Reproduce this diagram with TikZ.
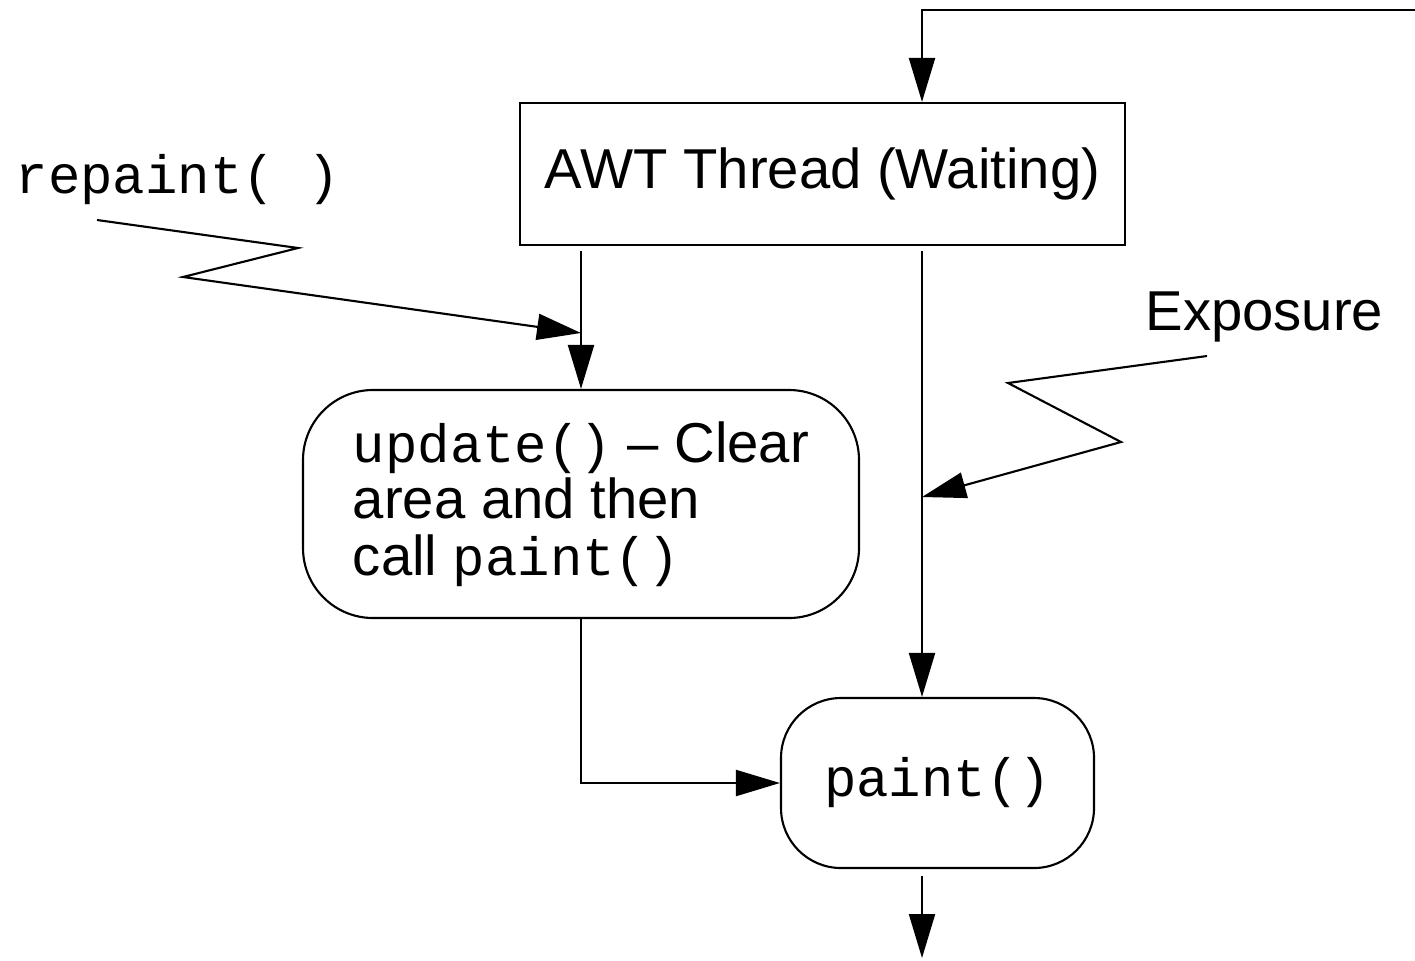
\documentclass[tikz,border=0pt]{standalone}
\usepackage{fontspec}
\setmainfont{Liberation Sans}
\setmonofont[Scale=0.96]{Liberation Mono}
\usepackage{tikz}
\usetikzlibrary{arrows.meta, positioning}

\begin{document}
\begin{tikzpicture}[
    box/.style={rectangle, draw, line width=0.6pt, minimum width=6.05cm, minimum height=1.42cm, align=center, font=\fontsize{16}{16}\selectfont},
    roundbox/.style={rectangle, draw, line width=0.6pt, rounded corners=0.7cm, align=left, font=\fontsize{16}{16}\selectfont},
    lbl/.style={inner sep=0pt, font=\fontsize{16}{16}\selectfont},
    arrow/.style={-{Triangle[length=0.44cm, width=0.26cm]}, line width=0.6pt}
]
    \useasboundingbox (0, 0) rectangle (14.15, 9.6);
    \node[box] (awt) at (8.225, 7.86) {AWT Thread (Waiting)};
    \node[roundbox, minimum width=5.56cm, minimum height=2.28cm] (upd) at (5.81, 4.56) {\texttt{update()} – Clear\\area and then\\call \texttt{paint()}};
    \node[roundbox, rounded corners=0.6cm, minimum width=3.13cm, minimum height=1.7cm] (paint) at (9.375, 1.77) {\texttt{paint()}};
    \node[lbl, anchor=base west] (rep) at (0.15, 7.67) {\texttt{repaint( )}};
    \node[lbl, anchor=base west] (expo) at (11.45, 6.30) {Exposure};
    % columns and free ends
    \coordinate (lcol) at (5.81, 0);
    \coordinate (rcol) at (9.22, 0);
    \coordinate (in) at (14.15, 9.5);
    \coordinate (out) at (9.22, 0.02);
    \coordinate (rstart) at (0.97, 7.4);
    \coordinate (estart) at (12.07, 6.04);
    \coordinate (rhit) at (5.81, 6.27);
    \coordinate (ehit) at (9.22, 4.63);
    \draw[arrow] (in) -| (awt.north -| rcol);
    \draw[arrow] ([yshift=-0.05cm]awt.south -| lcol) -- (upd.north);
    \draw[arrow] ([yshift=-0.05cm]awt.south -| rcol) -- (paint.north -| rcol);
    \draw[arrow] (upd.south) |- (paint.west);
    \draw[arrow] ([yshift=-0.07cm]paint.south -| rcol) -- (out);
    % zigzag events
    \draw[arrow] (rstart) -- (2.98, 7.12) -- (1.83, 6.83) -- (rhit);
    \draw[arrow] (estart) -- (10.08, 5.77) -- (11.21, 5.18) -- (ehit);
\end{tikzpicture}
\end{document}
